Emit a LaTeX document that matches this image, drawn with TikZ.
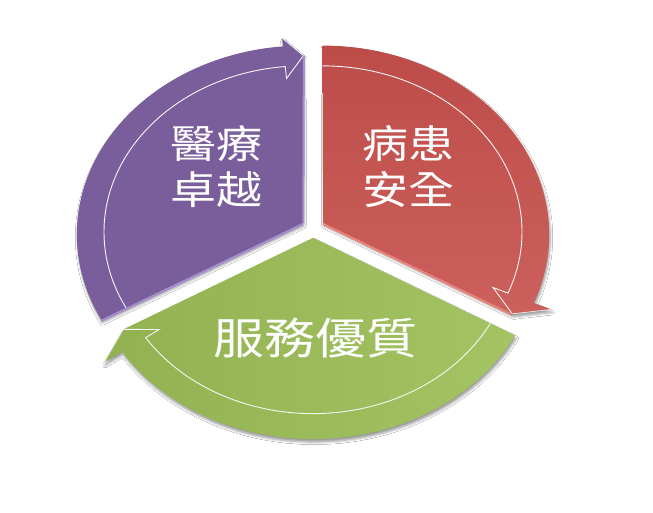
\documentclass[tikz,border=0pt]{standalone}
\usepackage{fontspec}
\usepackage{graphicx}
\newfontfamily\cjk{Noto Sans CJK TC}
\usetikzlibrary{shadows.blur}
\definecolor{cpurple}{HTML}{7A5E9C}
\definecolor{cpurpleL}{HTML}{A38FCB}
\definecolor{cred}{HTML}{BD4C49}
\definecolor{credR}{HTML}{CC605C}
\definecolor{credL}{HTML}{E8817B}
\definecolor{cgreenL}{HTML}{92B252}
\definecolor{cgreenR}{HTML}{A4C464}
\newcommand\cycseg[6]{%
  % #1 ex, #2 ey, #3 start angle, #4 end angle, #5 fill options, #6 outer wing radius
  \pgfmathsetmacro\hb{#4+5.5}%
  \path[segshadow, #5] ({qx(0,0,#1,#2)},{qy(0,0,#1,#2)})
    -- plot[domain=#3:\hb, samples=70] ({qx(1,\x,#1,#2)},{qy(1,\x,#1,#2)})
    -- ({qx(#6,\hb,#1,#2)},{qy(#6,\hb,#1,#2)})
    -- ({qx(0.94,#4,#1,#2)},{qy(0.94,#4,#1,#2)})
    -- cycle;
  \draw[innerline] plot[domain=#3:\hb, samples=70] ({qx(0.88,\x,#1,#2)},{qy(0.88,\x,#1,#2)})
    -- ({qx(0.81,\hb,#1,#2)},{qy(0.81,\hb,#1,#2)})
    -- ({qx(0.94,#4,#1,#2)},{qy(0.94,#4,#1,#2)});
  \draw[rim] ({qx(#6,\hb,#1,#2)},{qy(#6,\hb,#1,#2)})
    -- ({qx(0.94,#4,#1,#2)},{qy(0.94,#4,#1,#2)});
}
\begin{document}
\begin{tikzpicture}[x=1pt,y=1pt,
  declare function={
    qx(\myr,\mya,\myu,\myv)=313+226*(\myu+\myr*cos(\mya))/(1+0.0582*(\myv+\myr*sin(\mya)));
    qy(\myr,\mya,\myu,\myv)=285+188.4*(\myv+\myr*sin(\mya))/(1+0.0582*(\myv+\myr*sin(\mya)));
  },
  segshadow/.style={blur shadow={shadow xshift=1pt, shadow yshift=-3pt, shadow blur radius=2.5pt, shadow opacity=40}},
  innerline/.style={white!92!gray, line width=0.9pt, line join=miter},
  rim/.style={white!85!gray, line width=0.7pt},
  lbl/.style={text=white, inner sep=0pt},
]
\fill[white] (0,0) rectangle (653,513);
\useasboundingbox (0,0) rectangle (653,513);

% purple: 210 -> 90
\cycseg{-0.045}{0.026}{210}{90}{fill=cpurple}{1.05}
\draw[cpurpleL, line width=2pt] ({qx(0,0,-0.045,0.026)+0.5},{qy(0,0,-0.045,0.026)}) -- ({qx(0.94,90,-0.045,0.026)+0.5},{qy(0.94,90,-0.045,0.026)});
\draw[cpurpleL, line width=2.2pt] ({qx(0,0,-0.045,0.026)},{qy(0,0,-0.045,0.026)-1}) -- ({qx(1,210,-0.045,0.026)},{qy(1,210,-0.045,0.026)-1});

% red: 90 -> -30
\cycseg{0.045}{0.026}{90}{-30}{top color=cred, bottom color=credR}{1.08}
\draw[credL, line width=2.2pt] ({qx(0,0,0.045,0.026)},{qy(0,0,0.045,0.026)-1}) -- ({qx(0.94,-30,0.045,0.026)},{qy(0.94,-30,0.045,0.026)-1});

% green: -30 -> -150
\cycseg{0}{-0.052}{-30}{-150}{left color=cgreenL, right color=cgreenR}{1.09}

\node[lbl, font=\cjk\fontsize{46}{50}\selectfont] (tmed) at (216,341.5)
  {\scalebox{1}[0.85]{\begin{tabular}{@{}c@{}}醫療\\卓越\end{tabular}}};
\node[lbl, font=\cjk\fontsize{46}{50}\selectfont] (tsafe) at (408,341.5)
  {\scalebox{1}[0.85]{\begin{tabular}{@{}c@{}}病患\\安全\end{tabular}}};
\node[lbl, font=\cjk\fontsize{51}{55}\selectfont] (tsvc) at (315,175)
  {\scalebox{1}[0.85]{服務優質}};
\end{tikzpicture}
\end{document}
